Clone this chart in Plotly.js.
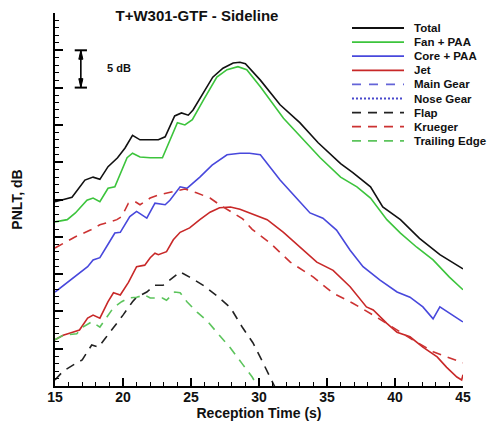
<!DOCTYPE html>
<html>
<head>
<meta charset="utf-8">
<script src="https://cdn.plot.ly/plotly-3.0.1.min.js"></script>
<style>
html,body{margin:0;padding:0;background:#fff;}
#chart{width:489px;height:424px;}
</style>
</head>
<body>
<div id="chart"></div>
<script>
// ---- Data ----
const totalT = [15.0,16.25,17.2,17.8,18.3,18.9,19.6,20.15,20.7,21.25,21.8,22.6,23.1,23.8,24.3,24.8,25.15,25.9,26.6,27.35,28.1,28.6,29.0,30.1,31.55,33.0,34.35,36.0,36.9,38.2,39.1,40.4,41.8,43.3,45.0];
const totalV = [74.7,75.3,77.6,78.0,77.7,79.4,80.6,81.9,83.6,83.0,83.0,83.0,83.4,86.2,86.6,86.3,87.0,89.3,91.4,92.6,93.3,93.4,93.2,91.0,87.7,85.3,82.6,79.8,78.6,76.7,74.0,72.3,69.8,67.6,65.7];

const fanT = [15.0,15.9,16.5,17.35,17.8,18.3,18.9,19.4,20.3,20.7,21.25,22.0,22.9,23.45,24.0,24.55,25.1,25.9,26.9,27.65,28.45,29.1,30.1,31.8,33.0,34.5,36.0,37.2,38.2,39.4,40.4,41.6,42.8,44.0,45.0];
const fanV = [72.0,72.3,73.2,74.9,75.2,74.7,76.5,76.7,80.6,81.2,80.7,80.6,80.6,83.0,85.3,85.0,85.7,88.3,91.4,92.4,92.8,92.4,90.1,85.9,83.6,80.6,78.0,76.7,75.2,72.3,70.5,68.6,66.9,64.6,62.9];

const coreT = [15.0,16.1,16.8,17.4,17.8,18.3,19.0,19.4,19.8,20.5,21.0,21.75,22.35,23.1,23.45,24.2,24.7,25.65,26.55,27.65,28.6,29.3,30.1,30.8,31.55,33.0,33.75,34.7,35.7,36.7,37.65,38.9,40.15,41.1,42.05,42.8,43.3,44.9,45.0];
const coreV = [62.6,64.2,65.1,66.0,66.9,67.2,69.3,70.5,70.6,72.7,73.4,72.5,74.5,74.3,74.9,76.7,76.5,78.0,79.6,81.0,81.2,81.2,81.0,79.4,77.6,74.7,73.2,72.5,70.9,68.2,66.0,64.2,62.6,61.9,60.6,59.0,60.6,58.7,58.6];

const jetT = [15.0,15.6,16.3,16.8,17.4,17.8,18.3,18.9,19.3,19.8,20.4,21.0,21.6,22.0,22.35,22.6,23.2,23.7,24.2,24.9,25.65,26.4,27.1,27.9,28.6,29.3,30.6,31.8,33.0,34.25,35.45,36.7,37.9,38.4,39.4,40.15,41.1,42.05,43.1,43.8,44.55,44.9,45.0];
const jetV = [56.2,56.8,57.2,57.5,59.1,59.5,59.1,61.3,62.5,62.2,63.9,66.0,66.2,67.2,67.8,67.6,68.0,69.6,70.6,71.2,72.3,73.3,73.9,74.0,73.7,73.2,72.3,70.6,68.6,66.6,65.5,63.3,60.6,60.2,58.4,57.2,56.6,55.2,53.9,52.5,51.2,50.8,51.5];

const mainGearT = [];
const mainGearV = [];
const noseGearT = [];
const noseGearV = [];

const flapT = [15.0,15.6,16.6,17.0,17.7,18.2,18.7,19.3,20.0,20.7,21.0,21.75,22.35,22.95,23.45,24.2,24.9,25.9,26.9,27.9,28.8,29.55,30.3,31.0,31.4];
const flapV = [50.8,52.0,53.1,53.5,55.5,55.2,56.4,57.8,59.5,61.3,61.9,62.6,63.5,63.5,64.2,65.3,64.6,63.5,62.1,60.5,57.8,55.8,53.1,50.4,49.0];

const kruegerT = [15.0,15.4,16.5,17.6,18.3,19.55,19.9,20.4,20.9,21.25,22.0,22.6,23.6,24.55,25.4,26.4,27.1,28.1,28.8,29.5,30.8,32.3,34.0,35.4,36.9,38.4,39.85,41.3,42.8,44.05,44.9,45.0];
const kruegerV = [68.5,68.9,70.0,70.9,71.6,72.3,72.7,74.5,74.7,74.3,75.2,75.6,76.0,76.4,75.9,75.2,74.3,73.2,72.4,71.0,69.2,66.6,64.6,62.5,61.1,59.5,57.8,56.2,54.6,53.8,53.2,53.1];

const trailT = [15.0,15.6,16.6,17.05,17.7,18.3,18.8,19.3,19.9,20.4,21.0,21.6,22.0,22.9,23.2,23.8,24.2,24.7,25.45,26.2,26.9,27.9,28.8,29.5,29.85,30.1];
const trailV = [56.2,56.8,57.0,57.9,58.6,57.9,59.2,60.5,61.3,61.8,61.9,62.2,61.8,61.8,61.5,62.6,62.5,61.3,59.9,58.7,57.2,55.1,52.9,51.2,50.1,49.5];

const seriesNames = ["Total","Fan + PAA","Core + PAA","Jet","Main Gear","Nose Gear","Flap","Krueger","Trailing Edge"];
const xTickVals = [15,20,25,30,35,40,45];
const xTickText = ["15","20","25","30","35","40","45"];

// ---- Styles ----
const colors = ["#111111","#3cc43c","#4848dc","#c82828","#6464d8","#4848cc","#222222","#cc3232","#5cc45c"];
const dashes = ["solid","solid","solid","solid","9px,8px","2px,2px","9px,7px","9px,7px","9px,7px"];
const xs = [totalT,fanT,coreT,jetT,mainGearT,noseGearT,flapT,kruegerT,trailT];
const ys = [totalV,fanV,coreV,jetV,mainGearV,noseGearV,flapV,kruegerV,trailV];

const traces = seriesNames.map((n,i)=>({
  type:"scatter", mode:"lines", name:n, x:xs[i], y:ys[i],
  line:{color:colors[i], width:1.6, dash:dashes[i]},
  showlegend:false, hoverinfo:"skip"
}));

// plot geometry in px
const L=55, T=13, W=408, H=373;
const px2paperX = p => (p-L)/W;
const py2paperY = p => (T+H-p)/H;

const shapes = [];
const annotations = [];
// manual legend (compact rows like the reference)
seriesNames.forEach((n,i)=>{
  const yy = 28 + i*14.1;
  shapes.push({type:"line", xref:"paper", yref:"paper",
    x0:px2paperX(352), x1:px2paperX(404), y0:py2paperY(yy), y1:py2paperY(yy),
    line:{color:colors[i], width:1.8, dash:dashes[i]}});
  annotations.push({xref:"paper", yref:"paper", x:px2paperX(412), y:py2paperY(yy),
    xanchor:"left", yanchor:"middle", showarrow:false, text:n,
    font:{family:"Liberation Sans, Arial, sans-serif", size:11.5, color:"#111", weight:"bold"}});
});

// 5 dB scale bar (data units: 90 to 95 dB, at ~16.9 s)
const barX = 16.9, barLo = 90, barHi = 95;
shapes.push({type:"line", xref:"x", yref:"y", x0:barX, x1:barX, y0:barLo, y1:barHi, line:{color:"#000", width:1.6}});
shapes.push({type:"line", xref:"x", yref:"y", x0:barX-0.45, x1:barX+0.45, y0:barLo, y1:barLo, line:{color:"#000", width:2}});
shapes.push({type:"line", xref:"x", yref:"y", x0:barX-0.45, x1:barX+0.45, y0:barHi, y1:barHi, line:{color:"#000", width:2}});
shapes.push({type:"path", xref:"x", yref:"y", path:`M ${barX} ${barHi} L ${barX-0.15} ${barHi-1.2} L ${barX+0.15} ${barHi-1.2} Z`, fillcolor:"#000", line:{color:"#000", width:1}});
shapes.push({type:"path", xref:"x", yref:"y", path:`M ${barX} ${barLo} L ${barX-0.15} ${barLo+1.2} L ${barX+0.15} ${barLo+1.2} Z`, fillcolor:"#000", line:{color:"#000", width:1}});
annotations.push({xref:"x", yref:"y", x:18.7, y:92.6, xanchor:"left", yanchor:"middle", showarrow:false, text:"5 dB",
  font:{family:"Liberation Sans, Arial, sans-serif", size:11, color:"#111", weight:"bold"}});

const fontFam = "Liberation Sans, Arial, sans-serif";
const layout = {
  width:489, height:424,
  margin:{l:L, r:489-L-W, t:T, b:424-T-H},
  paper_bgcolor:"#fff", plot_bgcolor:"#fff",
  showlegend:false,
  title:{text:"T+W301-GTF - Sideline", xref:"container", yref:"container", x:197/489, y:1-16/424, xanchor:"center", yanchor:"middle",
    font:{family:fontFam, size:15, color:"#111", weight:"bold"}},
  xaxis:{range:[15,45], showgrid:false, zeroline:false, showline:true, linecolor:"#000", linewidth:2,
    ticks:"inside", ticklen:8, tickwidth:2, tickcolor:"#000", tickvals:xTickVals, ticktext:xTickText,
    ticklabelstandoff:-3,
    minor:{ticks:"inside", ticklen:4, tickwidth:1, tickcolor:"#000", dtick:1, showgrid:false},
    tickfont:{family:fontFam, size:14, color:"#111", weight:"bold"},
    title:{text:"Reception Time (s)", standoff:0, font:{family:fontFam, size:14, color:"#111", weight:"bold"}}},
  yaxis:{range:[50,100], showgrid:false, zeroline:false, showline:true, linecolor:"#000", linewidth:2,
    ticks:"inside", ticklen:8, tickwidth:2, tickcolor:"#000", dtick:5, tick0:50, showticklabels:false,
    minor:{ticks:"inside", ticklen:4, tickwidth:1, tickcolor:"#000", dtick:1, showgrid:false},
    title:{text:"PNLT, dB", standoff:27, font:{family:fontFam, size:14, color:"#111", weight:"bold"}}},
  shapes:shapes, annotations:annotations
};

Plotly.newPlot("chart", traces, layout, {displayModeBar:false, staticPlot:true});
</script>
</body>
</html>
